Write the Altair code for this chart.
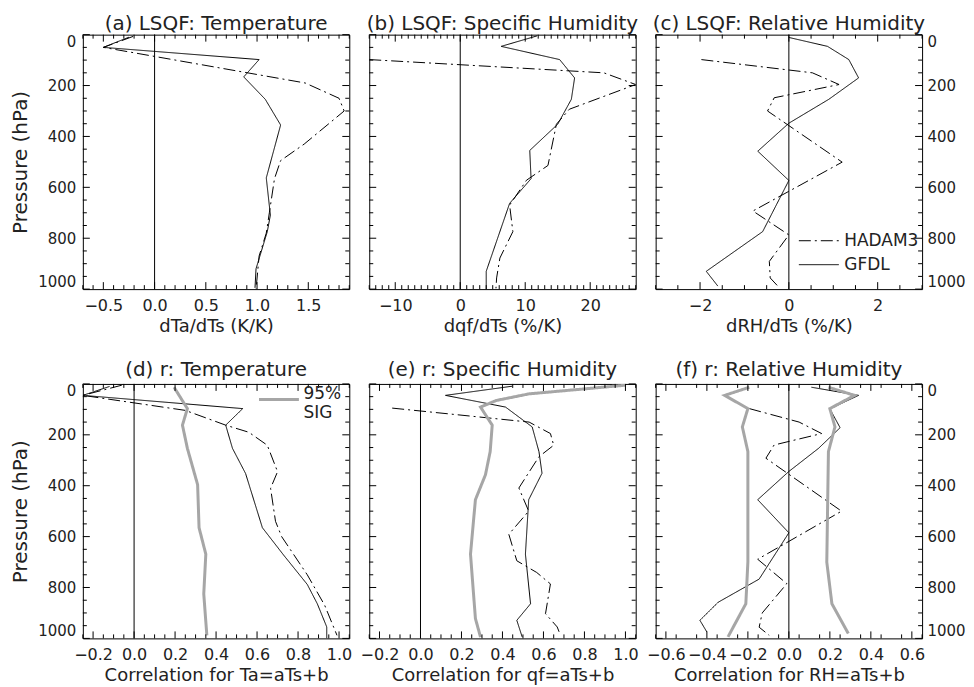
import numpy as np
import pandas as pd
import altair as alt

# ---------------- data (pressure in hPa) ----------------
# (a) LSQF: Temperature, dTa/dTs (K/K)
a_had_p = [7, 50, 190, 250, 300, 430, 495, 566, 700, 780, 870, 1000]
a_had_v = [-0.21, -0.50, 1.47, 1.80, 1.85, 1.46, 1.23, 1.17, 1.12, 1.09, 1.02, 0.99]
a_gfdl_p = [10, 50, 98, 166, 254, 355, 563, 709, 774, 920, 995]
a_gfdl_v = [-0.25, -0.50, 1.02, 0.87, 1.08, 1.23, 1.09, 1.13, 1.10, 0.99, 0.98]

# (b) LSQF: Specific Humidity, dqf/dTs (%/K)
b_had_p = [98, 150, 196, 293, 352, 514, 572, 670, 774, 878, 956, 997]
b_had_v = [-14.0, 22.1, 27.0, 16.8, 14.8, 13.5, 10.2, 7.6, 8.1, 6.1, 5.6, 5.5]
b_gfdl_p = [5, 46, 98, 170, 254, 352, 455, 566, 663, 930, 1000]
b_gfdl_v = [11.8, 6.3, 15.3, 17.6, 17.1, 15.0, 10.7, 10.9, 7.6, 4.0, 4.0]

# (c) LSQF: Relative Humidity, dRH/dTs (%/K)
c_had_p = [98, 150, 196, 248, 300, 501, 693, 787, 891, 956, 988]
c_had_v = [-1.97, 0.53, 1.13, -0.33, -0.48, 1.20, -0.81, 0.0, -0.44, -0.42, -0.25]
c_gfdl_p = [11, 46, 98, 170, 254, 348, 458, 573, 774, 930, 988]
c_gfdl_v = [0.0, 0.87, 1.35, 1.57, 0.90, 0.0, -0.70, 0.0, -0.59, -1.86, -1.60]

# (d) r: Temperature
d_had_p = [5, 45, 104, 162, 190, 241, 345, 410, 540, 600, 750, 870, 988]
d_had_v = [-0.06, -0.25, 0.25, 0.447, 0.56, 0.65, 0.70, 0.666, 0.69, 0.72, 0.845, 0.93, 0.99]
d_gfdl_p = [10, 45, 97, 162, 253, 352, 565, 673, 788, 864, 955, 1000]
d_gfdl_v = [-0.12, -0.25, 0.53, 0.447, 0.48, 0.544, 0.626, 0.73, 0.845, 0.894, 0.94, 0.94]
d_sig_p = [13, 97, 162, 253, 396, 565, 669, 825, 988]
d_sig_v = [0.195, 0.26, 0.236, 0.26, 0.31, 0.317, 0.35, 0.34, 0.355]

# (e) r: Specific Humidity
e_had_p = [95, 150, 195, 241, 286, 409, 500, 591, 695, 741, 786, 903, 955, 988]
e_had_v = [-0.138, 0.53, 0.634, 0.65, 0.578, 0.48, 0.528, 0.431, 0.47, 0.567, 0.634, 0.61, 0.667, 0.683]
e_gfdl_p = [9, 45, 91, 169, 266, 351, 455, 669, 864, 929, 994]
e_gfdl_v = [0.447, 0.122, 0.415, 0.545, 0.578, 0.593, 0.528, 0.512, 0.537, 0.47, 0.496]
e_sig_p = [5, 39, 65, 91, 162, 266, 357, 455, 669, 922, 995]
e_sig_v = [1.0, 0.53, 0.37, 0.293, 0.35, 0.34, 0.317, 0.268, 0.244, 0.268, 0.293]

# (f) r: Relative Humidity
f_had_p = [97, 150, 195, 240, 292, 500, 689, 785, 900, 956, 988]
f_had_v = [-0.193, 0.05, 0.16, -0.072, -0.112, 0.257, -0.152, -0.01, -0.13, -0.145, -0.096]
f_gfdl_p = [13, 45, 98, 172, 253, 344, 455, 585, 767, 858, 929, 975]
f_gfdl_v = [0.11, 0.34, 0.20, 0.25, 0.145, 0.0, -0.152, 0.0, -0.145, -0.345, -0.434, -0.40]
f_sig_lo_p = [13, 45, 97, 169, 266, 700, 864, 994]
f_sig_lo_v = [-0.193, -0.313, -0.2, -0.227, -0.2, -0.2, -0.21, -0.297]
f_sig_hi_p = [13, 45, 97, 169, 266, 700, 864, 981]
f_sig_hi_v = [0.193, 0.32, 0.20, 0.225, 0.193, 0.185, 0.21, 0.29]

# axis ticks / labels
p_major = [0, 200, 400, 600, 800, 1000]
a_major = [-0.5, 0.0, 0.5, 1.0, 1.5]
b_major = [-10, 0, 10, 20]
c_major = [-2, 0, 2]
r_major = [-0.2, 0.0, 0.2, 0.4, 0.6, 0.8, 1.0]
f_major = [-0.6, -0.4, -0.2, 0.0, 0.2, 0.4, 0.6]
zero_line = [0]

MODELS = ["HADAM3", "GFDL", "95% SIG"]

# ---------------- styling ----------------
W, H = 267, 255
MAJ, MIN = 7, 4
FONT = "DejaVu Sans"
INK = "#222222"
SIG_GRAY = "#a6a6a6"
LEG_PATH = "M-3,0H1"   # legend line sample drawn left of the label column


def minor_ticks(lo, hi, step, majors):
    n = int(round((hi - lo) / step))
    vals = [round(lo + i * step, 6) for i in range(n + 1)]
    return [v for v in vals if all(abs(v - m) > 1e-9 for m in majors)]


def series_df(series):
    rows = []
    for model, line, ps, vs in series:
        for p, v in zip(ps, vs):
            rows.append({"model": model, "line": line, "p": p, "v": v})
    return pd.DataFrame(rows)


def tick_layers(vals, length, xs, ys, xaxis, yaxis, axis_ch):
    df = pd.DataFrame({"t": vals})
    base = alt.Chart(df).mark_rule(color="black", strokeWidth=1)
    if axis_ch == "x":
        f = alt.X("t:Q", scale=xs, axis=xaxis)
        return [
            base.encode(x=f, y=alt.value(H), y2=alt.value(H - length)),
            base.encode(x=f, y=alt.value(0), y2=alt.value(length)),
        ]
    f = alt.Y("t:Q", scale=ys, axis=yaxis)
    return [
        base.encode(y=f, x=alt.value(0), x2=alt.value(length)),
        base.encode(y=f, x=alt.value(W), x2=alt.value(W - length)),
    ]


def panel(title, series, xdom, xmaj, xstep, xfmt, xtitle, yorient, legend, title_offset):
    xs = alt.Scale(domain=xdom, nice=False, zero=False)
    ys = alt.Scale(domain=[0, 1000], reverse=True, nice=False, zero=False)
    xaxis = alt.Axis(values=xmaj, format=xfmt, title=xtitle, tickSize=0, domain=False,
                     grid=False, labelPadding=8, labelFontSize=16, titleFontSize=18,
                     titlePadding=4, labelOverlap=False, labelFont=FONT, titleFont=FONT,
                     labelColor=INK, titleColor=INK, titleFontWeight="normal")
    if yorient is None:
        yaxis = None
    else:
        yaxis = alt.Axis(values=p_major, format="d", orient=yorient,
                         title="Pressure (hPa)" if yorient == "left" else None,
                         tickSize=0, domain=False, grid=False, labelFlush=True,
                         labelPadding=7 if yorient == "left" else 5, titlePadding=7,
                         labelFontSize=15, titleFontSize=20, labelOverlap=False,
                         labelFont=FONT, titleFont=FONT, labelColor=INK, titleColor=INK,
                         titleFontWeight="normal")
    df = series_df(series)
    lines = alt.Chart(df).mark_line(clip=True).encode(
        x=alt.X("v:Q", scale=xs, axis=xaxis),
        y=alt.Y("p:Q", scale=ys, axis=yaxis),
        stroke=alt.Stroke("model:N", scale=alt.Scale(domain=MODELS, range=["#000000", "#000000", SIG_GRAY]), legend=legend),
        strokeDash=alt.StrokeDash("model:N", scale=alt.Scale(domain=MODELS, range=[[12, 4, 2, 4], [1, 0], [1, 0]]), legend=legend),
        strokeWidth=alt.StrokeWidth("model:N", scale=alt.Scale(type="ordinal", domain=MODELS, range=[1.0, 1.0, 3.0]), legend=legend),
        detail="line:N",
        order="p:Q",
    )
    zero = alt.Chart(pd.DataFrame({"z": zero_line})).mark_rule(color="black", strokeWidth=1).encode(
        x=alt.X("z:Q", scale=xs, axis=xaxis))
    layers = [lines, zero]
    layers += tick_layers(xmaj, MAJ, xs, ys, xaxis, yaxis, "x")
    layers += tick_layers(minor_ticks(xdom[0], xdom[1], xstep, xmaj), MIN, xs, ys, xaxis, yaxis, "x")
    layers += tick_layers(p_major, MAJ, xs, ys, xaxis, yaxis, "y")
    layers += tick_layers(minor_ticks(0, 1000, 50, p_major), MIN, xs, ys, xaxis, yaxis, "y")
    return alt.layer(*layers).properties(
        width=W, height=H,
        title=alt.TitleParams(title, font=FONT, fontSize=20, fontWeight="normal", color=INK,
                              anchor="middle", offset=title_offset))


def legend_obj(values, x, y, label_offset, expr=None):
    kw = dict(values=values, orient="none", legendX=x, legendY=y, title=None,
              symbolType=LEG_PATH, symbolSize=400, labelFontSize=17, labelFont=FONT,
              labelColor=INK, labelOffset=label_offset, rowPadding=5, padding=0)
    if expr:
        kw["labelExpr"] = expr
        kw["labelBaseline"] = "alphabetic"
    return alt.Legend(**kw)


leg_c = legend_obj(["HADAM3", "GFDL"], 163, 196, 5)
leg_d = legend_obj(["95% SIG"], 195, 4, 3,
                   expr="datum.label == '95% SIG' ? ['95%', 'SIG'] : datum.label")

pa = panel("(a) LSQF: Temperature",
           [("HADAM3", "h", a_had_p, a_had_v), ("GFDL", "g", a_gfdl_p, a_gfdl_v)],
           [-0.7, 1.9], a_major, 0.1, ".1f", "dTa/dTs (K/K)", "left", None, 0)
pb = panel("(b) LSQF: Specific Humidity",
           [("HADAM3", "h", b_had_p, b_had_v), ("GFDL", "g", b_gfdl_p, b_gfdl_v)],
           [-14, 27], b_major, 1, "d", "dqf/dTs (%/K)", None, None, 0)
pc = panel("(c) LSQF: Relative Humidity",
           [("HADAM3", "h", c_had_p, c_had_v), ("GFDL", "g", c_gfdl_p, c_gfdl_v)],
           [-3, 3], c_major, 0.5, "d", "dRH/dTs (%/K)", "right", leg_c, 0)
pd_ = panel("(d) r: Temperature",
            [("HADAM3", "h", d_had_p, d_had_v), ("GFDL", "g", d_gfdl_p, d_gfdl_v),
             ("95% SIG", "s", d_sig_p, d_sig_v)],
            [-0.25, 1.05], r_major, 0.05, ".1f", "Correlation for Ta=aTs+b", "left", leg_d, 3)
pe = panel("(e) r: Specific Humidity",
           [("HADAM3", "h", e_had_p, e_had_v), ("GFDL", "g", e_gfdl_p, e_gfdl_v),
            ("95% SIG", "s", e_sig_p, e_sig_v)],
           [-0.25, 1.05], r_major, 0.05, ".1f", "Correlation for qf=aTs+b", None, None, 3)
pf = panel("(f) r: Relative Humidity",
           [("HADAM3", "h", f_had_p, f_had_v), ("GFDL", "g", f_gfdl_p, f_gfdl_v),
            ("95% SIG", "s1", f_sig_lo_p, f_sig_lo_v), ("95% SIG", "s2", f_sig_hi_p, f_sig_hi_v)],
           [-0.65, 0.65], f_major, 0.1, ".1f", "Correlation for RH=aTs+b", "right", None, 3)

chart = alt.concat(pa, pb, pc, pd_, pe, pf, columns=3,
                   spacing={"row": 95, "column": 20}, bounds="flush").resolve_scale(
    x="independent", y="independent", stroke="independent",
    strokeDash="independent", strokeWidth="independent").resolve_legend(
    stroke="independent", strokeDash="independent", strokeWidth="independent").configure_view(
    stroke="black", strokeWidth=1).properties(
    padding={"left": 2, "top": 5, "right": 0, "bottom": 0}, background="white")

chart.save("out.html", embed_options={"renderer": "svg", "actions": False})
